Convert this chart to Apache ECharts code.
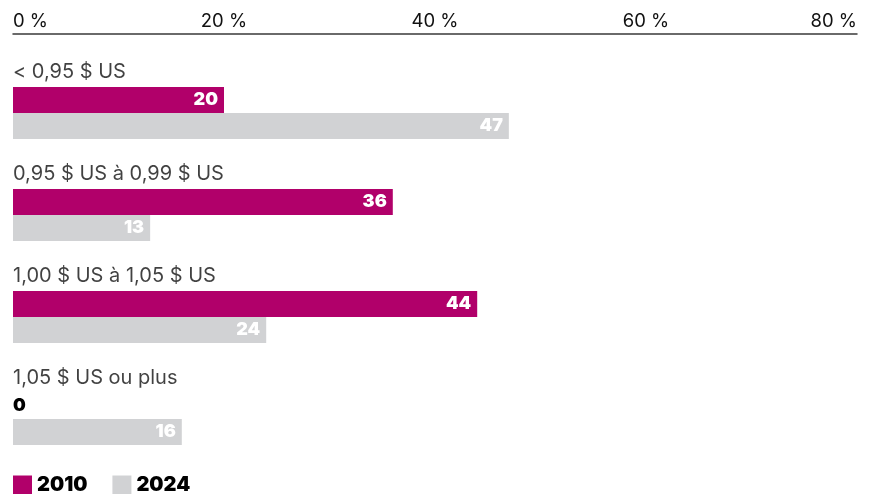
<!DOCTYPE html>
<html>
<head>
<meta charset="utf-8">
<script src="https://cdn.jsdelivr.net/npm/echarts@6/dist/echarts.min.js"></script>
<style>
  html, body { margin: 0; padding: 0; background: #fff; }
  #chart { width: 872px; height: 494px; }
</style>
</head>
<body>
<div id="chart"></div>
<script>
// Price bands and share of items (%) in each band
const categories = ['< 0,95 $ US', '0,95 $ US à 0,99 $ US', '1,00 $ US à 1,05 $ US', '1,05 $ US ou plus'];
const values2010 = [20, 36, 44, 0];
const values2024 = [47, 13, 24, 16];
const xTicks = [0, 20, 40, 60, 80];

const FONT = 'Inter, "Liberation Sans", Arial, sans-serif';
const MAGENTA = '#B1006A';
const GREY = '#D1D2D4';

const valueLabel = {
  show: true,
  position: 'insideRight',
  distance: 6,
  color: '#fff',
  fontFamily: FONT,
  fontWeight: 900,
  fontSize: 18
};

// Zero-length bars get their value printed in black beside the axis start
function toData(arr) {
  return arr.map(v => v === 0
    ? { value: v, label: { position: 'right', distance: 0, color: '#000' } }
    : v);
}

const chart = echarts.init(document.getElementById('chart'), null, { renderer: 'canvas' });
chart.setOption({
  animation: false,
  grid: { left: 13, right: 15, top: 62, bottom: 24, containLabel: false },
  xAxis: {
    type: 'value',
    position: 'top',
    offset: 28,
    min: xTicks[0],
    max: xTicks[xTicks.length - 1],
    interval: 20,
    axisLine: { show: true, lineStyle: { color: '#3a3a3a', width: 1.5 } },
    axisTick: { show: false },
    splitLine: { show: false },
    axisLabel: {
      formatter: '{value} %',
      margin: 3,
      color: '#111',
      fontFamily: FONT,
      fontSize: 18.5,
      alignMinLabel: 'left',
      alignMaxLabel: 'right'
    }
  },
  yAxis: {
    type: 'category',
    inverse: true,
    data: categories,
    axisLine: { show: false },
    axisTick: { show: false },
    axisLabel: { show: false }
  },
  legend: {
    left: 8,
    top: 470,
    itemWidth: 19,
    itemHeight: 19,
    itemGap: 25,
    icon: 'rect',
    textStyle: { color: '#000', fontFamily: FONT, fontWeight: 900, fontSize: 20, padding: [6, 0, 0, 0] },
    padding: [5, 5, 5, 5],
    data: ['2010', '2024']
  },
  series: [
    {
      name: '2010',
      type: 'bar',
      data: toData(values2010),
      barWidth: 26,
      barGap: '0%',
      itemStyle: { color: MAGENTA },
      label: valueLabel
    },
    {
      name: '2024',
      type: 'bar',
      data: toData(values2024),
      barWidth: 26,
      itemStyle: { color: GREY },
      label: valueLabel
    },
    {
      // Band titles sitting above each pair of bars
      name: 'bands',
      type: 'scatter',
      symbolSize: 0,
      silent: true,
      data: categories.map(c => [0, c]),
      label: {
        show: true,
        position: 'right',
        distance: 0,
        offset: [0, -41],
        formatter: p => p.value[1],
        color: '#111',
        fontFamily: FONT,
        fontSize: 20
      }
    }
  ]
});
</script>
</body>
</html>
